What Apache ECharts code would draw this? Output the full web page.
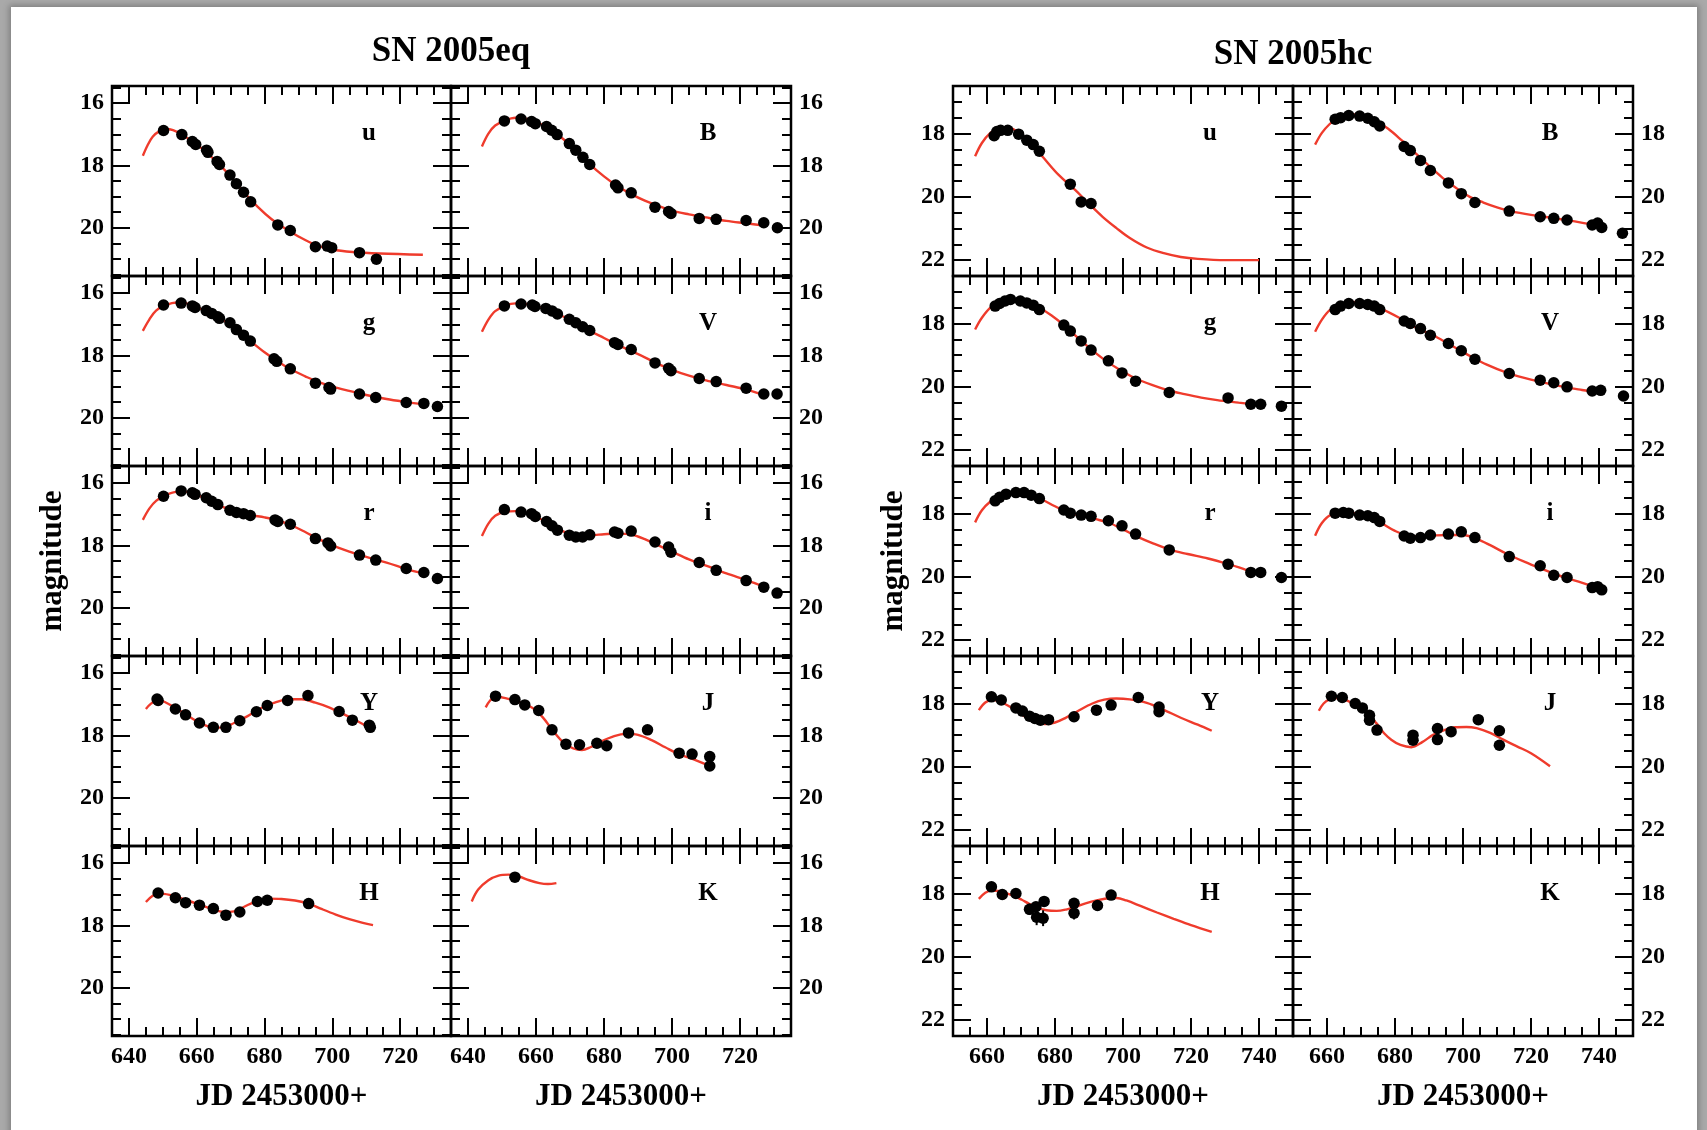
<!DOCTYPE html>
<html><head><meta charset="utf-8">
<script src="https://cdn.jsdelivr.net/npm/echarts@6/dist/echarts.min.js"></script>
<style>
html,body{margin:0;padding:0;width:1707px;height:1130px;overflow:hidden;background:#a9a9a9;}
#page{position:absolute;left:11px;top:7px;right:10px;bottom:-40px;background:#fff;box-shadow:0 0 6px 2px rgba(0,0,0,0.25);}
#chart{position:absolute;left:0;top:0;width:1707px;height:1130px;}
</style></head><body><div id="page"></div><div id="chart"></div>
<script>
// ---------- axis values ----------
const eqXRange = [635, 735];
const eqYRange = [15.45, 21.55];
const hcXRange = [650, 750];
const hcYRange = [16.5, 22.5];
const eqXTicks = [640, 660, 680, 700, 720];
const eqXMinor = [645, 650, 655, 665, 670, 675, 685, 690, 695, 705, 710, 715, 725, 730];
const hcXTicks = [660, 680, 700, 720, 740];
const hcXMinor = [655, 665, 670, 675, 685, 690, 695, 705, 710, 715, 725, 730, 735, 745];
const eqYTicks = [16, 18, 20];
const eqYMinor = [15.5, 16.5, 17, 17.5, 18.5, 19, 19.5, 20.5, 21, 21.5];
const hcYTicks = [18, 20, 22];
const hcYMinor = [16.5, 17, 17.5, 18.5, 19, 19.5, 20.5, 21, 21.5, 22.5];
const bandNames = ['u', 'B', 'g', 'V', 'r', 'i', 'Y', 'J', 'H', 'K'];
const titles = ['SN 2005eq', 'SN 2005hc'];
const xTitle = 'JD 2453000+';
const yTitle = 'magnitude';

// ---------- SN 2005eq : [JD, mag, err] ----------
const eq_u_pts = [[650.2,16.88],[655.6,17.01],[658.7,17.23],[659.7,17.33],[662.9,17.51],[663.3,17.58],[666.0,17.87],[666.7,17.97],[669.8,18.31],[671.7,18.59],[673.8,18.86],[675.9,19.17],[683.9,19.91],[687.6,20.09],[695.0,20.61],[698.5,20.59],[699.8,20.64],[708.0,20.80],[713.0,21.01]];
const eq_u_fit = [[644.1,17.69],[645.5,17.35],[647,17.08],[649,16.9],[651,16.83],[653,16.87],[656,17.03],[659,17.27],[662,17.5],[666,17.9],[670,18.35],[674,18.87],[678,19.33],[682,19.72],[686,20.02],[690,20.28],[695,20.55],[700,20.7],[706,20.78],[714,20.83],[726.7,20.87]];
const eq_B_pts = [[650.7,16.57],[655.6,16.51],[658.7,16.59],[659.8,16.66],[663.1,16.75],[664.6,16.87],[666.2,17.01],[669.8,17.30],[671.7,17.51],[673.8,17.74],[675.8,17.97],[683.4,18.63],[684.1,18.72],[688.0,18.88],[695.0,19.34],[699.0,19.48],[699.7,19.54],[708.0,19.70],[713.0,19.73],[721.8,19.77],[727.0,19.84],[731.0,20.00]];
const eq_B_fit = [[644.1,17.39],[646,16.98],[648,16.72],[651,16.55],[654,16.47],[657,16.5],[660,16.6],[664,16.83],[668,17.15],[672,17.55],[676,17.98],[680,18.35],[684,18.67],[688,18.92],[692,19.13],[696,19.3],[700,19.45],[705,19.57],[710,19.67],[716,19.78],[722,19.86],[727,19.93]];
const eq_g_pts = [[650.2,16.38],[655.4,16.32],[658.7,16.41],[659.5,16.46],[662.8,16.56],[664.4,16.65],[666.2,16.76],[666.7,16.81],[669.8,16.95],[671.7,17.17],[673.8,17.35],[675.8,17.54],[682.8,18.11],[683.6,18.19],[687.6,18.43],[695.0,18.89],[699.0,19.03],[699.5,19.08],[708.0,19.24],[712.8,19.35],[721.8,19.51],[727.0,19.54],[731.0,19.64]];
const eq_g_fit = [[644.1,17.21],[646,16.85],[648,16.56],[651,16.38],[654,16.3],[657,16.33],[660,16.45],[664,16.65],[668,16.88],[672,17.18],[676,17.55],[680,17.9],[684,18.2],[688,18.46],[692,18.67],[696,18.86],[700,19.0],[705,19.14],[710,19.27],[716,19.4],[722,19.5],[726.7,19.57]];
const eq_V_pts = [[650.7,16.41],[655.6,16.35],[658.9,16.38],[659.7,16.43],[662.9,16.49],[664.7,16.57],[666.3,16.67],[669.8,16.84],[671.7,16.95],[673.7,17.08],[675.8,17.20],[683.1,17.59],[684.1,17.65],[688.0,17.81],[695.0,18.24],[699.0,18.41],[699.7,18.49],[708.0,18.74],[713.0,18.84],[721.8,19.05],[727.0,19.24],[730.9,19.24]];
const eq_V_fit = [[644.1,17.24],[646,16.85],[648,16.58],[651,16.4],[654,16.33],[657,16.35],[660,16.42],[664,16.56],[668,16.75],[672,16.98],[676,17.22],[680,17.44],[684,17.66],[688,17.86],[692,18.06],[696,18.28],[700,18.46],[705,18.65],[710,18.8],[716,18.95],[722,19.1],[727,19.28]];
const eq_r_pts = [[650.2,16.42],[655.4,16.25],[658.7,16.31],[659.5,16.36],[662.8,16.47],[664.4,16.58],[666.2,16.69],[669.8,16.87],[671.7,16.94],[673.8,16.98],[675.8,17.04],[683.1,17.18],[683.9,17.23],[687.6,17.32],[695.0,17.78],[698.7,17.92],[699.5,18.02],[708.0,18.31],[712.8,18.47],[721.8,18.74],[727.0,18.87],[731.0,19.06]];
const eq_r_fit = [[644.1,17.18],[646,16.82],[648,16.57],[651,16.38],[654,16.28],[657,16.28],[660,16.38],[664,16.57],[668,16.78],[672,16.93],[676,17.03],[680,17.1],[684,17.2],[688,17.36],[692,17.57],[696,17.8],[700,18.0],[705,18.2],[710,18.37],[716,18.55],[722,18.76],[726.7,18.9]];
const eq_i_pts = [[650.7,16.85],[655.6,16.93],[658.7,16.98],[659.8,17.07],[663.1,17.23],[664.7,17.37],[666.3,17.51],[669.8,17.67],[671.7,17.73],[673.7,17.73],[675.8,17.66],[683.1,17.57],[684.1,17.61],[688.0,17.54],[695.0,17.89],[699.0,18.05],[699.7,18.22],[708.0,18.55],[713.0,18.80],[721.8,19.13],[727.0,19.34],[730.9,19.53]];
const eq_i_fit = [[644.1,17.70],[646,17.3],[648,17.05],[651,16.92],[654,16.9],[657,16.95],[660,17.07],[664,17.32],[668,17.55],[672,17.67],[676,17.67],[680,17.64],[684,17.62],[688,17.65],[692,17.8],[696,18.0],[700,18.2],[705,18.45],[710,18.65],[716,18.9],[722,19.12],[727,19.32]];
const eq_Y_pts = [[648.3,16.83],[648.6,16.88],[653.7,17.15],[656.7,17.34],[660.8,17.60],[664.9,17.74],[668.6,17.74],[672.7,17.53],[677.6,17.24],[680.8,17.04],[686.8,16.88],[692.8,16.72],[702.0,17.23],[705.9,17.51],[710.9,17.67],[711.2,17.74]];
const eq_Y_fit = [[645,17.15],[646.5,16.98],[648.5,16.85],[651,16.95],[655,17.2],[659,17.48],[662,17.65],[665,17.75],[668,17.74],[671,17.6],[675,17.38],[679,17.12],[683,16.95],[687,16.84],[691,16.84],[695,16.95],[699,17.1],[703,17.3],[707,17.52],[710,17.7],[712,17.85]];
const eq_J_pts = [[648.1,16.74],[653.8,16.85],[656.7,17.02],[660.8,17.20],[664.7,17.82],[668.8,18.28,0.08],[672.8,18.30,0.12],[677.9,18.25],[680.8,18.33],[687.2,17.92,0.08],[692.8,17.82],[702.1,18.57,0.08],[705.9,18.60,0.08],[711.1,18.68],[711.1,18.98]];
const eq_J_fit = [[645.2,17.10],[646.5,16.88],[648,16.76],[651,16.8],[655,16.93],[659,17.12],[662,17.42],[665,17.85],[668,18.22],[671,18.42],[673.5,18.47],[676,18.38],[679,18.2],[683,18.02],[686.5,17.95],[690,17.98],[694,18.15],[698,18.38],[702,18.6],[706,18.75],[710.7,18.96]];
const eq_H_pts = [[648.6,16.96],[653.7,17.11],[656.7,17.27],[660.8,17.35],[664.9,17.46],[668.6,17.67],[672.7,17.57],[677.9,17.23],[680.8,17.19],[693.0,17.30]];
const eq_H_fit = [[645,17.25],[647,17.05],[649,16.97],[652,17.02],[656,17.15],[660,17.3],[664,17.45],[668,17.57],[671,17.55],[674,17.4],[677,17.25],[681,17.14],[685,17.15],[689,17.2],[693,17.3],[697,17.48],[701,17.65],[705,17.8],[709,17.92],[712,17.99]];
const eq_K_pts = [[653.8,16.45]];
const eq_K_fit = [[641.1,17.23],[643,16.85],[646,16.55],[649,16.4],[652,16.37],[655,16.43],[658,16.55],[661,16.64],[663.5,16.67],[666,16.64]];

// ---------- SN 2005hc : [JD, mag, err] ----------
const hc_u_pts = [[662.1,18.07],[662.9,17.94],[664.0,17.90],[666.1,17.90],[669.3,18.02],[671.7,18.21],[673.6,18.35],[675.4,18.56],[684.5,19.60],[687.7,20.16],[690.6,20.21]];
const hc_u_fit = [[656.5,18.72],[658.5,18.3],[661,17.98],[663.5,17.83],[666,17.8],[668,17.88],[670,18.02],[673,18.32],[676.5,18.75],[681,19.3],[686,19.79],[690,20.22],[694,20.63],[698,20.98],[702,21.3],[707,21.6],[712,21.78],[717,21.9],[722,21.96],[730,22.0],[740,22.0]];
const hc_B_pts = [[662.4,17.55],[664.0,17.50],[666.4,17.43],[669.6,17.45],[672.0,17.52],[673.9,17.63],[675.5,17.76],[682.7,18.41],[684.5,18.54],[687.5,18.85],[690.4,19.17],[695.7,19.56],[699.5,19.90],[703.5,20.18],[713.6,20.45],[722.7,20.63],[726.7,20.68],[730.6,20.73],[738.0,20.89],[739.6,20.83],[740.8,20.97],[746.9,21.15]];
const hc_B_fit = [[656.5,18.35],[658.5,17.98],[660.8,17.7],[663,17.52],[665.6,17.4],[668,17.4],[671,17.47],[674,17.58],[678,17.85],[682,18.22],[686,18.62],[690,19.02],[694,19.4],[698,19.72],[702,20.0],[706,20.18],[710,20.33],[714,20.45],[720,20.57],[726,20.66],[732,20.76],[736,20.84],[740.8,20.92]];
const hc_g_pts = [[662.4,17.45],[663.7,17.37],[665.3,17.29],[666.9,17.24],[669.8,17.29],[671.7,17.35],[673.6,17.42],[675.4,17.56],[682.6,18.05],[684.5,18.24],[687.7,18.55],[690.6,18.84],[695.7,19.18],[699.7,19.56],[703.7,19.82],[713.6,20.18],[730.9,20.35],[737.6,20.55],[740.5,20.55],[746.6,20.61]];
const hc_g_fit = [[656.5,18.19],[658.5,17.82],[661.3,17.47],[664,17.3],[666.9,17.24],[670,17.27],[674.9,17.47],[679,17.75],[682.9,18.08],[687,18.48],[690.9,18.84],[695,19.18],[698.9,19.45],[703.5,19.72],[708.5,19.94],[713,20.1],[718.1,20.23],[723,20.34],[727.7,20.42],[734,20.5],[740.5,20.58]];
const hc_V_pts = [[662.4,17.56],[664.0,17.45],[666.4,17.37],[669.6,17.37],[672.0,17.40],[673.9,17.45],[675.5,17.56],[682.7,17.92],[684.5,18.00],[687.5,18.16],[690.4,18.37],[695.7,18.63],[699.5,18.86],[703.5,19.13],[713.6,19.58],[722.7,19.79],[726.7,19.87],[730.6,20.00],[738.0,20.13],[740.5,20.11],[747.2,20.29]];
const hc_V_fit = [[656.5,18.26],[658.5,17.88],[660.8,17.58],[663.5,17.42],[667.2,17.32],[671,17.36],[675.2,17.5],[681.6,17.84],[686,18.12],[691.2,18.37],[696,18.66],[700.8,18.95],[707,19.3],[713.6,19.58],[720,19.77],[729.6,20.0],[735,20.1],[740.5,20.19]];
const hc_r_pts = [[662.4,17.60],[663.7,17.49],[665.6,17.39],[668.5,17.34],[670.9,17.34],[673.0,17.42],[675.4,17.53],[682.6,17.89],[684.5,17.99],[687.7,18.05],[690.6,18.09],[695.7,18.23],[699.7,18.39],[703.7,18.65],[713.6,19.15],[730.9,19.60],[737.6,19.86],[740.5,19.86],[746.6,20.02]];
const hc_r_fit = [[656.5,18.28],[658.5,17.9],[661,17.62],[664,17.43],[668.5,17.32],[672,17.36],[676,17.55],[680,17.77],[684,17.97],[688,18.08],[692,18.18],[696,18.3],[700,18.5],[704,18.72],[709,18.95],[714,19.15],[719,19.28],[725,19.42],[731,19.6],[736,19.77],[740.5,19.92]];
const hc_i_pts = [[662.4,17.99],[664.8,17.97],[666.4,17.99],[669.6,18.05],[672.0,18.07],[673.9,18.13],[675.5,18.25],[682.7,18.71],[684.5,18.78],[687.5,18.76],[690.4,18.68],[695.7,18.65],[699.5,18.58],[703.5,18.76],[713.6,19.36],[722.7,19.65],[726.7,19.95],[730.6,20.02],[738.0,20.34],[739.6,20.31],[740.8,20.41]];
const hc_i_fit = [[656.5,18.70],[658.5,18.3],[661,18.05],[665.6,17.97],[670,18.03],[673,18.13],[676,18.3],[680,18.55],[684,18.7],[688,18.72],[692,18.69],[696,18.68],[700,18.68],[704,18.8],[708,19.0],[713,19.28],[718,19.52],[723,19.74],[728,19.95],[734,20.15],[740.8,20.39]];
const hc_Y_pts = [[661.3,17.79],[664.2,17.89],[668.5,18.14],[670.4,18.24],[672.5,18.40],[674.1,18.47],[675.7,18.53],[678.1,18.51],[685.6,18.42,0.08],[692.2,18.21,0.08],[696.5,18.05],[704.5,17.81],[710.6,18.11,0.08],[710.6,18.26,0.08]];
const hc_Y_fit = [[657.6,18.21],[659.5,17.97],[661.5,17.88],[664,17.95],[667,18.12],[671,18.4],[674,18.58],[677,18.65],[680,18.6],[683,18.46],[687,18.22],[691,18.0],[694.5,17.88],[698,17.84],[702,17.87],[707,17.98],[712,18.2],[717,18.45],[722,18.67],[726.1,18.86]];
const hc_J_pts = [[661.3,17.77,0.08],[664.5,17.81,0.06],[668.3,18.00,0.06],[670.4,18.14,0.08],[672.5,18.37,0.12],[672.5,18.53,0.1],[674.7,18.84,0.16],[685.3,19.00,0.12],[685.3,19.16,0.12],[692.5,18.79,0.12],[692.5,19.14,0.12],[696.5,18.89,0.1],[704.5,18.51,0.12],[710.7,18.86,0.12],[710.7,19.32,0.12]];
const hc_J_fit = [[657.6,18.23],[659,18.0],[660.8,17.87],[663,17.83],[665.6,17.89],[669,18.08],[672,18.31],[674.5,18.62],[676.8,18.94],[679,19.15],[681.6,19.31],[684.8,19.38],[688,19.22],[691.2,18.99],[694.5,18.84],[697.6,18.75],[701,18.74],[704,18.78],[708,18.93],[712,19.15],[716,19.36],[720,19.57],[725.6,19.98]];
const hc_H_pts = [[661.3,17.79,0.05],[664.5,18.03,0.06],[668.5,18.00,0.08],[672.5,18.50,0.18],[674.4,18.42,0.15],[674.6,18.75,0.25],[676.5,18.78,0.25],[676.8,18.25,0.15],[685.6,18.31,0.12],[685.6,18.62,0.2],[692.5,18.38,0.08],[696.5,18.05,0.06]];
const hc_H_fit = [[657.6,18.17],[659.5,17.98],[661.3,17.91],[663.5,17.92],[665.3,17.98],[668,18.08],[670.1,18.19],[672.5,18.33],[674.9,18.45],[677.5,18.53],[680.5,18.55],[683.5,18.5],[686.1,18.42],[689,18.31],[692.5,18.21],[695.5,18.15],[698.1,18.14],[701,18.22],[705.3,18.4],[710,18.6],[714.9,18.8],[720,19.0],[726.1,19.21]];
const hc_K_pts = [];
const hc_K_fit = [];

// ---------- build ----------
const eqData = [[eq_u_pts,eq_u_fit],[eq_B_pts,eq_B_fit],[eq_g_pts,eq_g_fit],[eq_V_pts,eq_V_fit],[eq_r_pts,eq_r_fit],[eq_i_pts,eq_i_fit],[eq_Y_pts,eq_Y_fit],[eq_J_pts,eq_J_fit],[eq_H_pts,eq_H_fit],[eq_K_pts,eq_K_fit]];
const hcData = [[hc_u_pts,hc_u_fit],[hc_B_pts,hc_B_fit],[hc_g_pts,hc_g_fit],[hc_V_pts,hc_V_fit],[hc_r_pts,hc_r_fit],[hc_i_pts,hc_i_fit],[hc_Y_pts,hc_Y_fit],[hc_J_pts,hc_J_fit],[hc_H_pts,hc_H_fit],[hc_K_pts,hc_K_fit]];

const FIGS = [
  {cols: [[112, 339], [451, 340]], x: eqXRange, y: eqYRange, xt: eqXTicks, xm: eqXMinor, yt: eqYTicks, ym: eqYMinor, data: eqData, titleX: 451, titleY: 52},
  {cols: [[953, 340], [1293, 340]], x: hcXRange, y: hcYRange, xt: hcXTicks, xm: hcXMinor, yt: hcYTicks, ym: hcYMinor, data: hcData, titleX: 1293, titleY: 55}
];
const ROW_TOP = 86, ROW_H = 190;
const RED = '#ef3b2c';
const SERIF = '"Liberation Serif", "Times New Roman", serif';
const tickLabel = {fontFamily: SERIF, fontWeight: 'bold', fontSize: 24, color: '#000'};
const nameStyle = {fontFamily: SERIF, fontWeight: 'bold', fontSize: 31, color: '#000'};

const grids = [], xAxes = [], yAxes = [], series = [], graphics = [];
function tick(len, vals) { return {show: true, inside: true, length: len, customValues: vals, lineStyle: {color: '#000', width: 2}}; }

FIGS.forEach((F, fi) => {
  graphics.push({type: 'text', x: F.titleX, y: F.titleY, z: 10,
    style: {text: titles[fi], font: 'bold 35px ' + SERIF, fill: '#000', textAlign: 'center', textVerticalAlign: 'middle'}});
  F.data.forEach((pd, k) => {
    const row = Math.floor(k / 2), col = k % 2;
    const g = grids.length;
    const left = F.cols[col][0], width = F.cols[col][1], top = ROW_TOP + ROW_H * row;
    grids.push({left: left, top: top, width: width, height: ROW_H, show: true, borderColor: '#000', borderWidth: 2.5, backgroundColor: 'transparent'});
    const bx = {type: 'value', gridIndex: g, min: F.x[0], max: F.x[1], axisLine: {show: false, onZero: false}, splitLine: {show: false}};
    const by = {type: 'value', gridIndex: g, min: F.y[0], max: F.y[1], inverse: true, axisLine: {show: false, onZero: false}, splitLine: {show: false}};
    const bottom = row === 4;
    xAxes.push(Object.assign({}, bx, {position: 'bottom', axisTick: tick(18, F.xt),
      axisLabel: bottom ? Object.assign({show: true, customValues: F.xt, margin: 9}, tickLabel) : {show: false},
      name: bottom ? xTitle : '', nameLocation: 'middle', nameGap: 45, nameTextStyle: nameStyle}));
    xAxes.push(Object.assign({}, bx, {position: 'bottom', axisTick: tick(9, F.xm), axisLabel: {show: false}}));
    xAxes.push(Object.assign({}, bx, {position: 'top', axisTick: tick(18, F.xt), axisLabel: {show: false}}));
    xAxes.push(Object.assign({}, bx, {position: 'top', axisTick: tick(9, F.xm), axisLabel: {show: false}}));
    yAxes.push(Object.assign({}, by, {position: 'left', axisTick: tick(18, F.yt),
      axisLabel: col === 0 ? Object.assign({show: true, customValues: F.yt, margin: 8}, tickLabel) : {show: false},
      name: (col === 0 && row === 2) ? yTitle : '', nameLocation: 'middle', nameGap: 44, nameTextStyle: nameStyle}));
    yAxes.push(Object.assign({}, by, {position: 'left', axisTick: tick(9, F.ym), axisLabel: {show: false}}));
    yAxes.push(Object.assign({}, by, {position: 'right', axisTick: tick(18, F.yt),
      axisLabel: col === 1 ? Object.assign({show: true, customValues: F.yt, margin: 8}, tickLabel) : {show: false}}));
    yAxes.push(Object.assign({}, by, {position: 'right', axisTick: tick(9, F.ym), axisLabel: {show: false}}));

    graphics.push({type: 'text', x: left + 257, y: top + 48, z: 10,
      style: {text: bandNames[k], font: 'bold 25px ' + SERIF, fill: '#000', textAlign: 'center', textVerticalAlign: 'middle'}});

    const pts = pd[0], fit = pd[1];
    if (fit.length) series.push({type: 'line', xAxisIndex: 4 * g, yAxisIndex: 4 * g, data: fit, showSymbol: false, smooth: 0.35,
      lineStyle: {color: RED, width: 2.4}, z: 2, silent: true});
    const errs = pts.filter(d => d.length > 2 && d[2] > 0);
    if (errs.length) series.push({type: 'custom', xAxisIndex: 4 * g, yAxisIndex: 4 * g, data: errs, z: 3, silent: true,
      encode: {x: 0, y: 1},
      renderItem: function (params, api) {
        const x = api.value(0), y = api.value(1), e = api.value(2);
        const p1 = api.coord([x, y - e]), p2 = api.coord([x, y + e]);
        return {type: 'line', shape: {x1: p1[0], y1: p1[1], x2: p2[0], y2: p2[1]}, style: {stroke: '#000', lineWidth: 2}};
      }});
    if (pts.length) series.push({type: 'scatter', xAxisIndex: 4 * g, yAxisIndex: 4 * g, data: pts.map(d => [d[0], d[1]]),
      symbol: 'circle', symbolSize: 11.5, itemStyle: {color: '#000', opacity: 1}, z: 4, silent: true});
  });
});

const chart = echarts.init(document.getElementById('chart'), null, {renderer: 'canvas'});
chart.setOption({animation: false, backgroundColor: 'transparent', grid: grids, xAxis: xAxes, yAxis: yAxes, series: series, graphic: graphics});
</script></body></html>
